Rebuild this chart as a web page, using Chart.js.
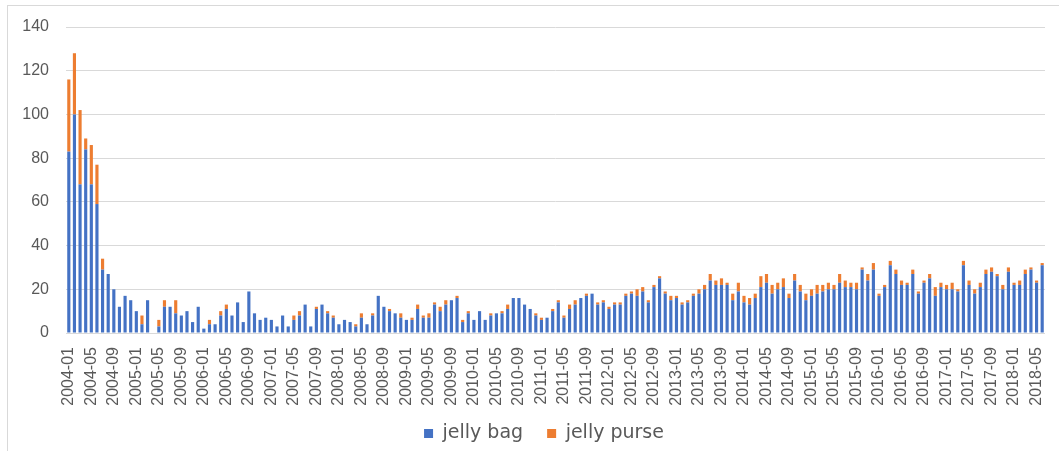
<!DOCTYPE html>
<html>
<head>
<meta charset="utf-8">
<title>jelly bag / jelly purse</title>
<script src="https://cdn.jsdelivr.net/npm/chart.js@4/dist/chart.umd.min.js"></script>
<style>
  html, body { margin: 0; padding: 0; background: #ffffff; overflow: hidden; }
  #wrap { position: relative; width: 1059px; height: 451px; }
  #chart { position: absolute; left: 0; top: 0; }
  #frame {
    position: absolute; left: 7px; top: 5px; width: 1100px; height: 500px;
    border: 1px solid #d9d9d9; pointer-events: none;
  }
</style>
</head>
<body>
<div id="wrap">
  <canvas id="chart" width="1059" height="451"></canvas>
  <div id="frame"></div>
</div>
<script>
// Monthly categories, 2004-01 through 2018-06
const firstYear = 2004, firstMonth = 1;
const monthCount = 174;
const months = [];
for (let k = 0; k < monthCount; k++) {
  const m = firstMonth - 1 + k;
  const y = firstYear + Math.floor(m / 12);
  const mm = (m % 12) + 1;
  months.push(y + '-' + (mm < 10 ? '0' + mm : '' + mm));
}

// Search interest per month
const jellyBag = [
  83, 100, 68, 84, 68, 59, 29, 27, 20, 12, 17, 15,
  10, 4, 15, 0, 3, 12, 12, 9, 8, 10, 5, 12,
  2, 4, 4, 8, 11, 8, 14, 5, 19, 9, 6, 7,
  6, 3, 8, 3, 6, 8, 13, 3, 11, 13, 9, 7,
  4, 6, 5, 3, 7, 4, 8, 17, 12, 10, 9, 7,
  6, 6, 11, 7, 7, 13, 10, 13, 15, 16, 5, 9,
  6, 10, 6, 8, 9, 9, 11, 16, 16, 13, 11, 8,
  6, 7, 10, 14, 7, 11, 13, 16, 17, 18, 13, 14,
  11, 13, 13, 17, 18, 17, 19, 14, 21, 25, 18, 15,
  16, 13, 14, 17, 18, 20, 24, 22, 22, 22, 15, 19,
  14, 13, 16, 21, 23, 18, 20, 21, 16, 24, 19, 15,
  17, 18, 19, 20, 20, 23, 21, 21, 20, 29, 24, 29,
  17, 21, 31, 27, 22, 22, 27, 18, 23, 25, 17, 21,
  20, 20, 19, 31, 22, 18, 21, 27, 28, 26, 20, 28,
  22, 22, 27, 29, 23, 31
];
const jellyPurse = [
  33, 28, 34, 5, 18, 18, 5, 0, 0, 0, 0, 0,
  0, 4, 0, 0, 3, 3, 0, 6, 0, 0, 0, 0,
  0, 2, 0, 2, 2, 0, 0, 0, 0, 0, 0, 0,
  0, 0, 0, 0, 2, 2, 0, 0, 1, 0, 1, 1,
  0, 0, 0, 1, 2, 0, 1, 0, 0, 1, 0, 2,
  0, 1, 2, 1, 2, 1, 2, 2, 0, 1, 1, 1,
  0, 0, 0, 1, 0, 1, 2, 0, 0, 0, 0, 1,
  1, 0, 1, 1, 1, 2, 2, 0, 1, 0, 1, 1,
  1, 1, 1, 1, 1, 3, 2, 1, 1, 1, 1, 2,
  1, 1, 1, 1, 2, 2, 3, 2, 3, 1, 3, 4,
  3, 3, 2, 5, 4, 4, 3, 4, 2, 3, 3, 3,
  3, 4, 3, 3, 2, 4, 3, 2, 3, 1, 3, 3,
  1, 1, 2, 2, 2, 1, 2, 1, 1, 2, 4, 2,
  2, 3, 1, 2, 2, 2, 2, 2, 2, 1, 2, 2,
  1, 2, 2, 1, 1, 1
];

const yTicks = [0, 20, 40, 60, 80, 100, 120, 140];
const labelEvery = 4;

const axisText = '#595959';
const gridColor = '#d9d9d9';

// Nudges the legend block so it sits where the frame's legend row is
const legendNudge = {
  id: 'legendNudge',
  afterLayout(chart) {
    const lg = chart.legend;
    if (!lg) return;
    lg.left += 11.5;
    lg.right += 11.5;
    lg.top -= 13;
    lg.bottom -= 13;
  }
};

new Chart(document.getElementById('chart'), {
  type: 'bar',
  data: {
    labels: months,
    datasets: [
      {
        label: 'jelly bag',
        data: jellyBag,
        backgroundColor: '#4472c4',
        borderWidth: 0,
        barPercentage: 0.56,
        categoryPercentage: 1.0
      },
      {
        label: 'jelly purse',
        data: jellyPurse,
        backgroundColor: '#ed7d31',
        borderWidth: 0,
        barPercentage: 0.56,
        categoryPercentage: 1.0
      }
    ]
  },
  plugins: [legendNudge],
  options: {
    responsive: false,
    animation: false,
    devicePixelRatio: 1,
    layout: { padding: { left: 20, right: 14, top: 27, bottom: -15 } },
    plugins: {
      tooltip: { enabled: false },
      legend: {
        position: 'bottom',
        align: 'center',
        labels: {
          boxWidth: 9,
          boxHeight: 9,
          padding: 24,
          color: axisText,
          font: { family: '"DejaVu Sans", sans-serif', size: 19 }
        }
      }
    },
    scales: {
      x: {
        stacked: true,
        offset: true,
        grid: { display: false, drawTicks: false },
        border: { display: false },
        ticks: {
          autoSkip: false,
          maxRotation: 90,
          minRotation: 90,
          padding: 14,
          color: axisText,
          font: { family: '"Liberation Sans", Arial, sans-serif', size: 16 },
          callback: function (value, index) {
            return index % labelEvery === 0 ? this.getLabelForValue(value) : '';
          }
        },
        afterFit: function (scale) {
          scale.height = 80;
          scale.paddingLeft = 0;
          scale.paddingRight = 0;
        }
      },
      y: {
        stacked: true,
        min: yTicks[0],
        max: yTicks[yTicks.length - 1],
        grid: { color: gridColor, lineWidth: 1, drawTicks: false },
        border: { display: false },
        afterBuildTicks: function (scale) {
          scale.ticks = yTicks.map(v => ({ value: v }));
        },
        ticks: {
          padding: 17,
          color: axisText,
          font: { family: '"Liberation Sans", Arial, sans-serif', size: 16 }
        },
        afterFit: function (scale) {
          scale.width = 46;
        }
      }
    }
  }
});
</script>
</body>
</html>
